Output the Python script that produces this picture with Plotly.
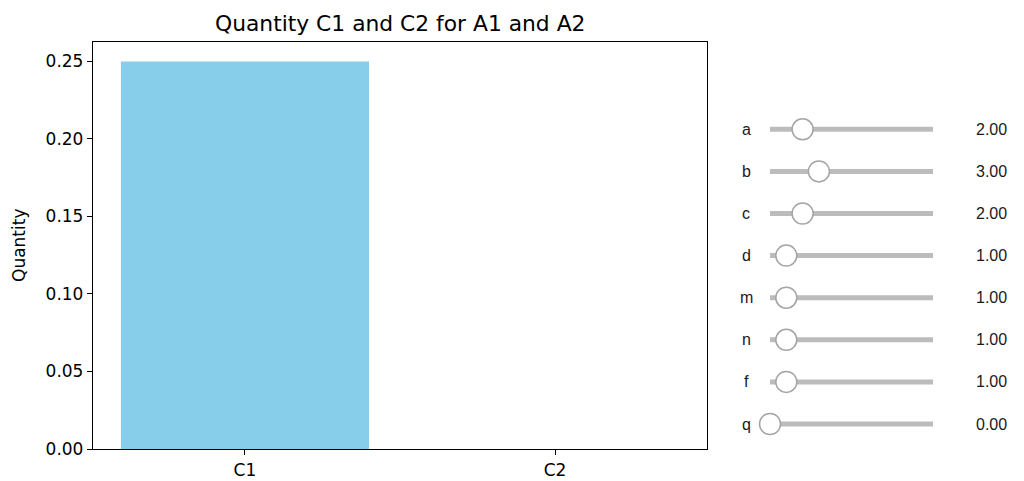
import plotly.graph_objects as go

# ---- data ----
categories = ["C1", "C2"]
quantities = [0.25, 0.0]

slider_names = ["a", "b", "c", "d", "m", "n", "f", "q"]
slider_values = [2.0, 3.0, 2.0, 1.0, 1.0, 1.0, 1.0, 0.0]
slider_min = 0.0
slider_max = 10.0

W, H = 1024, 481
def px_x(p): return p / W
def px_y(p): return 1 - p / H

fig = go.Figure()

fig.add_trace(go.Bar(
    x=[0, 1], y=quantities, width=0.8,
    marker=dict(color="#87CEEB", line=dict(width=0)),
    xaxis="x", yaxis="y", showlegend=False, hoverinfo="skip",
))

# slider tracks
rows = list(range(len(slider_names)))
tx, ty = [], []
for r in rows:
    tx += [slider_min, slider_max, None]
    ty += [r, r, None]
fig.add_trace(go.Scatter(
    x=tx, y=ty, mode="lines", line=dict(color="#bcbcbc", width=5),
    xaxis="x2", yaxis="y2", showlegend=False, hoverinfo="skip", cliponaxis=False,
))
fig.add_trace(go.Scatter(
    x=slider_values, y=rows, mode="markers",
    marker=dict(size=21, color="white", line=dict(color="#a5a5a5", width=1.5)),
    xaxis="x2", yaxis="y2", showlegend=False, hoverinfo="skip", cliponaxis=False,
))

annotations = []
for r, (name, val) in enumerate(zip(slider_names, slider_values)):
    annotations.append(dict(
        x=px_x(746), xref="paper", y=r, yref="y2", text=name, showarrow=False,
        xanchor="center", yanchor="middle",
        font=dict(family="Liberation Sans", size=16, color="#1a1a1a"),
    ))
    annotations.append(dict(
        x=px_x(1009), xref="paper", y=r, yref="y2", text=f"{val:.2f}", showarrow=False,
        xanchor="right", yanchor="middle",
        font=dict(family="Liberation Sans", size=16, color="#1a1a1a"),
    ))

annotations.append(dict(
    x=px_x(400), xref="paper", y=px_y(23), yref="paper",
    text="Quantity C1 and C2 for A1 and A2", showarrow=False,
    xanchor="center", yanchor="middle",
    font=dict(family="DejaVu Sans", size=21.8, color="black"),
))
annotations.append(dict(
    x=px_x(19), xref="paper", y=px_y(246), yref="paper",
    text="Quantity", showarrow=False, textangle=-90,
    xanchor="center", yanchor="middle",
    font=dict(family="DejaVu Sans", size=17, color="black"),
))

axis_common = dict(showline=True, linecolor="black", linewidth=1.3, mirror=True,
                   ticks="outside", ticklen=5, tickwidth=1.2, tickcolor="black",
                   showgrid=False, zeroline=False, automargin=False,
                   tickfont=dict(family="DejaVu Sans", size=17, color="black"))

unit = (933 - 770) / (slider_max - slider_min)
row_h = (424 - 129.3) / (len(slider_names) - 1)

fig.update_layout(
    width=W, height=H,
    margin=dict(l=0, r=0, t=0, b=0),
    paper_bgcolor="white", plot_bgcolor="white",
    xaxis=dict(domain=[px_x(93), px_x(707)], range=[-0.49, 1.49],
               tickvals=[0, 1], ticktext=categories, anchor="y", **axis_common),
    yaxis=dict(domain=[px_y(449), px_y(42)], range=[0, 0.2625],
               tickvals=[0, 0.05, 0.10, 0.15, 0.20, 0.25], tickformat=".2f",
               anchor="x", **axis_common),
    xaxis2=dict(domain=[px_x(770 - unit), px_x(933 + unit)],
                range=[slider_min - 1, slider_max + 1],
                visible=False, anchor="y2", fixedrange=True),
    yaxis2=dict(domain=[px_y(424 + row_h / 2), px_y(129.3 - row_h / 2)],
                range=[len(slider_names) - 0.5, -0.5],
                visible=False, anchor="x2", fixedrange=True),
    annotations=annotations,
    font=dict(family="DejaVu Sans"),
)

fig.write_html("out.html", config={"displayModeBar": False},
               post_script="document.body.style.margin='0px';document.body.style.padding='0px';")
